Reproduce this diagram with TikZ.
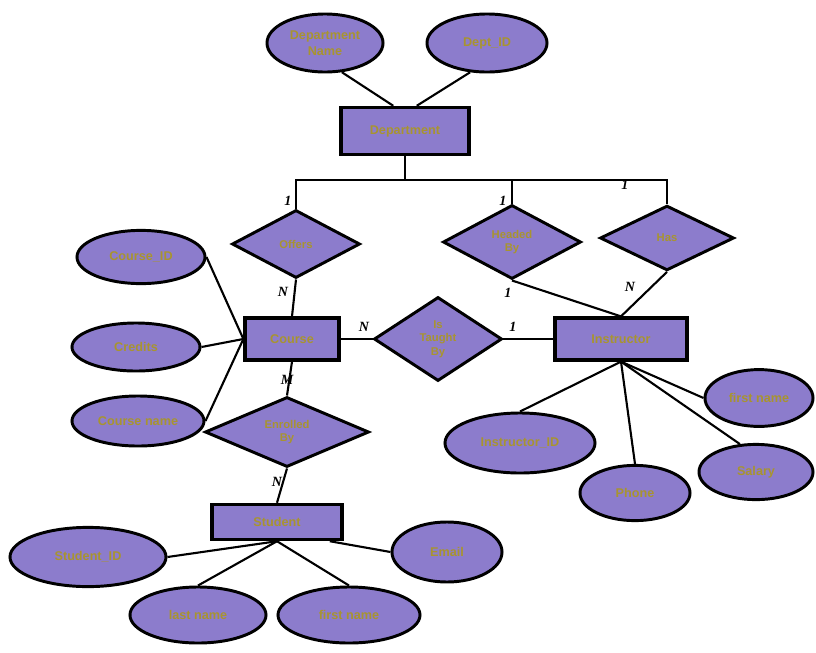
\documentclass[tikz,border=0pt]{standalone}
\usepackage{fontspec}
\setmainfont{Liberation Sans}
\newfontfamily\cardfont{Liberation Serif}
\usepackage{tikz}
\usetikzlibrary{shapes.geometric}
\definecolor{erfill}{RGB}{140,124,204}
\definecolor{ertext}{RGB}{168,148,48}

\begin{document}
\begin{tikzpicture}[
  x=0.025cm, y=-0.025cm,
  attr/.style={ellipse, draw, line width=2.1pt, fill=erfill, text=ertext, inner sep=1pt,
    minimum width=3.2cm, minimum height=1.45cm, font=\small\bfseries, align=center},
  entity/.style={rectangle, draw, line width=2.3pt, fill=erfill, text=ertext,
    minimum height=1.05cm, font=\small\bfseries},
  rel/.style={diamond, aspect=1.5, draw, line width=2.1pt, fill=erfill, text=ertext,
    inner sep=0pt, font=\footnotesize\bfseries, align=center},
  link/.style={line width=1.5pt},
  card/.style={font=\cardfont\normalsize\bfseries\itshape}
]
\useasboundingbox (0,0) rectangle (816,652);

\node[attr, minimum width=2.9cm] (dname) at (325,43)  {Department\\Name};
\node[attr, minimum width=3cm]   (did)   at (487,43)  {Dept\_ID};
\node[entity, minimum width=3.2cm, minimum height=1.18cm] (dept) at (405,131) {Department};

\node[rel, minimum width=3.2cm,  minimum height=1.7cm]  (offers)  at (296,244) {Offers};
\node[rel, minimum width=3.45cm, minimum height=1.85cm] (headed)  at (512,242) {Headed\\By};
\node[rel, minimum width=3.35cm, minimum height=1.62cm] (has)     at (667,238) {Has};

\node[entity, minimum width=2.35cm] (course) at (292,339) {Course};
\node[rel, minimum width=3.2cm, minimum height=2.1cm]   (taught)  at (438,339) {Is\\Taught\\By};
\node[entity, minimum width=3.3cm]  (instr)  at (621,339) {Instructor};

\node[attr, minimum height=1.33cm]                    (cid)     at (141,257) {Course\_ID};
\node[attr, minimum height=1.2cm]                     (credits) at (136,347) {Credits};
\node[attr, minimum width=3.3cm, minimum height=1.25cm] (cname) at (138,421) {Course name};

\node[rel, minimum width=4.1cm, minimum height=1.75cm]  (enrolled) at (287,432) {Enrolled\\By};
\node[entity, minimum width=3.25cm, minimum height=0.88cm] (student) at (277,522) {Student};

\node[attr, minimum width=3.9cm,  minimum height=1.48cm] (sid)    at (88,557)  {Student\_ID};
\node[attr, minimum width=3.4cm,  minimum height=1.4cm]  (lname)  at (198,615) {last name};
\node[attr, minimum width=3.55cm, minimum height=1.4cm]  (fname)  at (349,615) {first name};
\node[attr, minimum width=2.75cm, minimum height=1.5cm]  (semail) at (447,552) {Email};

\node[attr, minimum width=3.75cm, minimum height=1.5cm]  (iid)     at (520,443) {Instructor\_ID};
\node[attr, minimum width=2.75cm, minimum height=1.38cm] (iphone)  at (635,493) {Phone};
\node[attr, minimum width=2.7cm,  minimum height=1.42cm] (ifname)  at (759,398) {first name};
\node[attr, minimum width=2.85cm, minimum height=1.38cm] (isalary) at (756,472) {Salary};

\coordinate (fork) at (405,180);

\draw[link] (dname.-60) -- (dept.115);
\draw[link] (did.-120)  -- (dept.65);
\draw[link] (dept.south) -- (fork);
\draw[link] (offers.north) |- (fork) -| (has.north);
\draw[link] (headed.north) -- (headed.north |- fork);

\draw[link] (offers.south) -- (course.north);
\draw[link] (headed.south) -- (instr.north);
\draw[link] (has.south)    -- (instr.north);
\draw[link] (course.east)  -- (taught.west);
\draw[link] (taught.east)  -- (instr.west);

\draw[link] (cid.east)     -- (course.west);
\draw[link] (credits.east) -- (course.west);
\draw[link] (cname.east)   -- (course.west);

\draw[link] (course.south)   -- (enrolled.north);
\draw[link] (enrolled.south) -- (student.north);

\draw[link] (sid.east)     -- (student.south);
\draw[link] (lname.north)  -- (student.south);
\draw[link] (fname.north)  -- (student.south);
\draw[link] (semail.west)  -- (student.-20);

\draw[link] (iid.north)     -- (instr.south);
\draw[link] (iphone.north)  -- (instr.south);
\draw[link] (ifname.west)   -- (instr.south);
\draw[link] (isalary.120)   -- (instr.south);

\node[card] (o1)  at (288,201) {1};
\node[card] (h1)  at (503,201) {1};
\node[card] (s1)  at (625,185) {1};
\node[card] (oN)  at (283,292) {N};
\node[card] (h2)  at (508,293) {1};
\node[card] (sN)  at (630,287) {N};
\node[card] (tN)  at (364,327) {N};
\node[card] (t1)  at (513,327) {1};
\node[card] (cM)  at (287,380) {M};
\node[card] (eN)  at (277,482) {N};
\end{tikzpicture}
\end{document}
